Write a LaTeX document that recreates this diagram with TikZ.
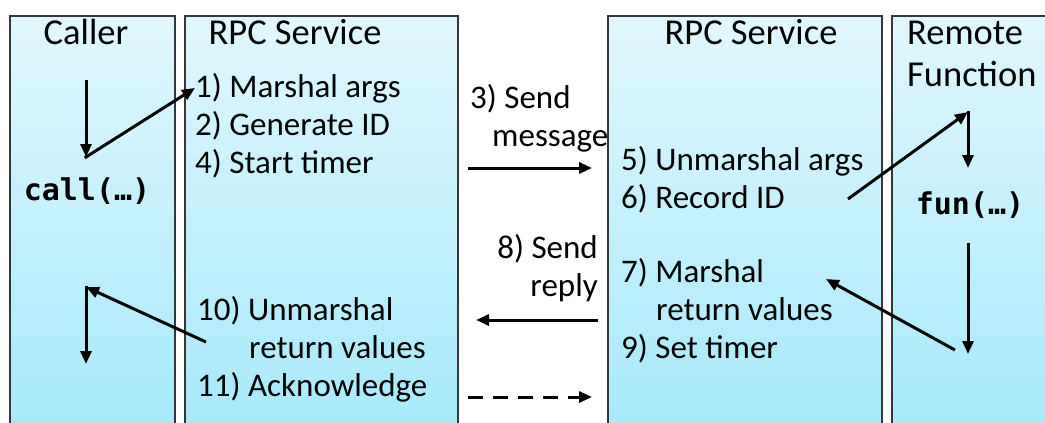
\documentclass[tikz,border=0pt]{standalone}
\usepackage{fontspec}
\setmainfont{Carlito}
\newfontfamily\codefont{DejaVu Sans Mono}
\usetikzlibrary{arrows.meta}
\definecolor{coltop}{RGB}{225,247,253}
\definecolor{colbot}{RGB}{164,233,252}
\definecolor{edge}{RGB}{55,55,55}
\tikzset{
  column/.style={draw=edge, line width=1.5pt, top color=coltop, bottom color=colbot,
    anchor=north west, inner sep=0pt, minimum height=430pt},
  txt/.style={anchor=base west, inner sep=0pt, font=\fontsize{33}{38}\selectfont},
  head/.style={txt, font=\fontsize{36.5}{40}\selectfont},
  code/.style={anchor=base, inner sep=0pt, font=\codefont\bfseries\fontsize{30}{32}\selectfont},
  arr/.style={line width=3pt, -{Triangle[length=13pt,width=11pt]}},
  darr/.style={arr, dash pattern=on 15pt off 10pt}
}
\begin{document}
\begin{tikzpicture}[x=1pt,y=-1pt]
\useasboundingbox (0,0) rectangle (1045,423);
\clip (0,0) rectangle (1045,423);
% columns
\node[column, minimum width=165pt] (callerbox) at (9,15) {};
\node[column, minimum width=273pt] (lrpcbox) at (184,15) {};
\node[column, minimum width=274pt] (rrpcbox) at (607,15) {};
\node[column, minimum width=175pt] (remotebox) at (891,15) {};
% headers
\node[head, anchor=base] (hcaller) at (86,45) {Caller};
\node[head, anchor=base] (hlrpc) at (295,45) {RPC Service};
\node[head, anchor=base] (hrrpc) at (751,45) {RPC Service};
\node[head] (hremote1) at (907,45) {Remote};
\node[head] (hremote2) at (907,86) {Function};
% left RPC service
\node[txt] (s1) at (195,97) {1) Marshal args};
\node[txt] (s2) at (195,135) {2) Generate ID};
\node[txt] (s4) at (195,173) {4) Start timer};
\node[txt] (s10a) at (197,320) {10) Unmarshal};
\node[txt] (s10b) at (249,358) {return values};
\node[txt] (s11) at (197,396) {11) Acknowledge};
% middle labels
\node[txt] (m3a) at (470,108) {3) Send};
\node[txt] (m3b) at (492,146) {message};
\node[txt, anchor=base east] (m8a) at (598,258) {8) Send};
\node[txt, anchor=base east] (m8b) at (598,296) {reply};
% right RPC service
\node[txt] (s5) at (621,170) {5) Unmarshal args};
\node[txt] (s6) at (621,208) {6) Record ID};
\node[txt] (s7a) at (621,282) {7) Marshal};
\node[txt] (s7b) at (656,320) {return values};
\node[txt] (s9) at (621,358) {9) Set timer};
% code
\node[code] (call) at (87,200) {call(…)};
\node[code] (fun) at (970,214) {fun(…)};
% connector points
\coordinate (ca) at (86,80);
\coordinate (cb) at (86,157);
\coordinate (cc) at (195,88);
\coordinate (cd) at (206,342);
\coordinate (ce) at (86,287);
\coordinate (cf) at (86,364);
\coordinate (ra) at (848,199);
\coordinate (rb) at (968,112);
\coordinate (rc) at (968,168);
\coordinate (rd) at (968,243);
\coordinate (re) at (968,354);
\coordinate (rf) at (955,350);
\coordinate (rg) at (826,279);
\coordinate (n3a) at (468,168);
\coordinate (n3b) at (592,168);
\coordinate (n8a) at (598,320);
\coordinate (n8b) at (476,320);
\coordinate (n11a) at (468,397);
\coordinate (n11b) at (592,397);
% connectors
\draw[arr] (ca) -- (cb);
\draw[arr, shorten <=-1.5pt] (cb) -- (cc);
\draw[arr] (cd) -- (ce);
\draw[arr, shorten <=-1.5pt] (ce) -- (cf);
\draw[arr] (ra) -- (rb);
\draw[arr, shorten <=-1.5pt] (rb) -- (rc);
\draw[arr] (rd) -- (re);
\draw[arr] (rf) -- (rg);
\draw[arr] (n3a) -- (n3b);
\draw[arr] (n8a) -- (n8b);
\draw[darr] (n11a) -- (n11b);
\end{tikzpicture}
\end{document}
